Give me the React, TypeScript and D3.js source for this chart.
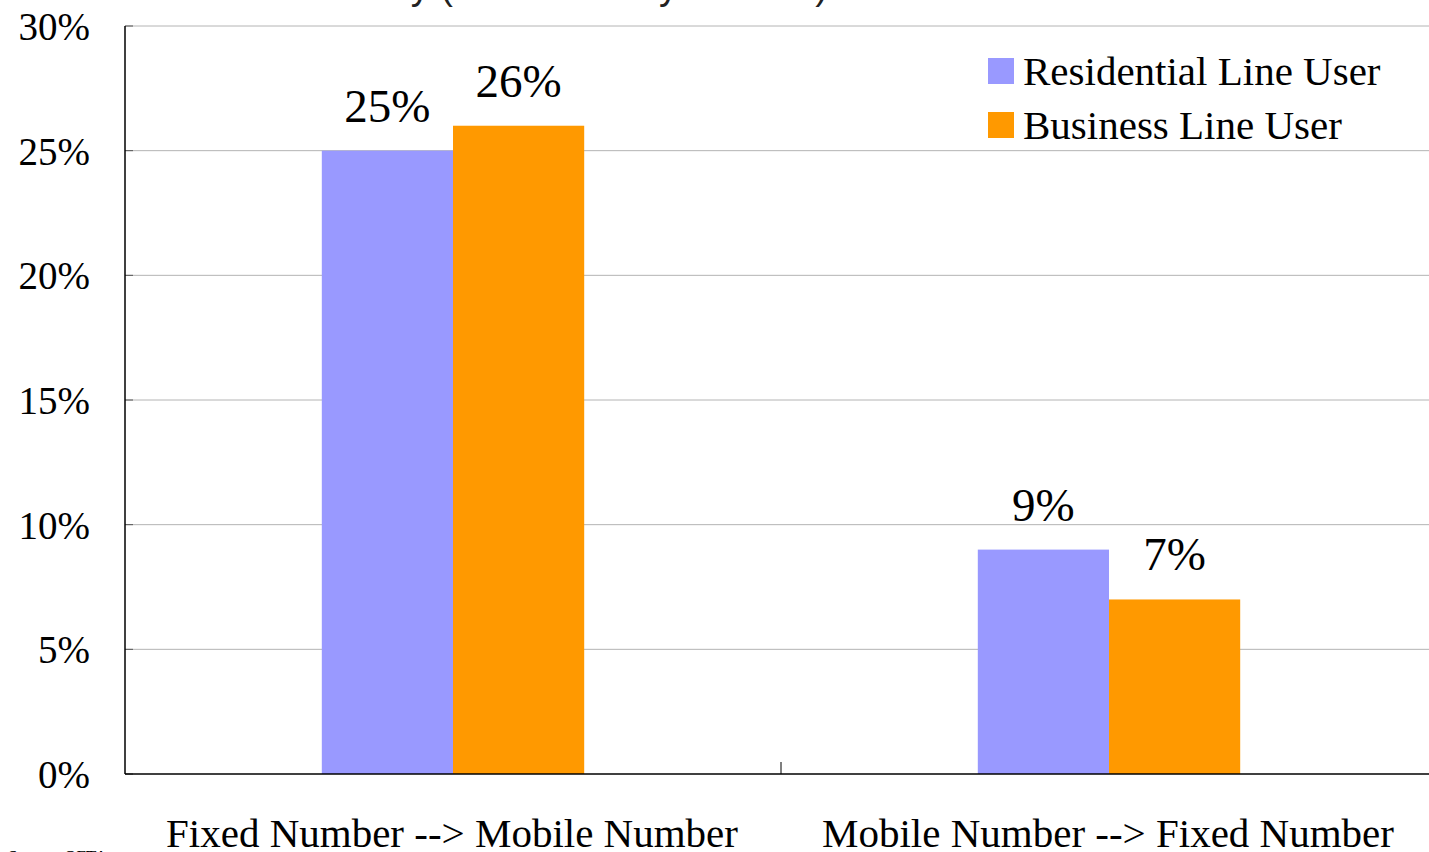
import React from "react";
import * as d3 from "d3";

const categories = ["Fixed Number --> Mobile Number", "Mobile Number --> Fixed Number"];
const seriesNames = ["Residential Line User", "Business Line User"];
const residential = [0.25, 0.09];
const business = [0.26, 0.07];
const yTicks = [0, 0.05, 0.1, 0.15, 0.2, 0.25, 0.3];
const colors = ["#9999FF", "#FF9900"];
const titleText = "Demand for Number Portability (OFTA Survey Results)";
const sourceText = "Source: OFTA";

const W = 1429;
const H = 852;
const FONT = "'Liberation Serif', 'Times New Roman', serif";
const SANS = "'Liberation Sans', Arial, sans-serif";

export default function App() {
  const left = 125;
  const right = 1437;
  const top = 26;
  const bottom = 774;

  const x = d3.scaleBand<string>().domain(categories).range([left, right]).paddingInner(0).paddingOuter(0);
  const xs = d3.scaleBand<string>().domain(seriesNames).range([0, x.bandwidth()]).paddingInner(0).paddingOuter(1.5);
  const y = d3.scaleLinear().domain([0, 0.3]).range([bottom, top]);
  const fmt = d3.format(".0%");
  const values = [residential, business];

  return (
    <svg width={W} height={H} style={{ position: "fixed", left: 0, top: 0, display: "block", background: "#fff" }}>
      {/* title (cut off at top, only descenders visible) */}
      <text x={828} y={-1} textAnchor="end" fontFamily={SANS} fontSize={38} fill="#222">{titleText}</text>

      {/* gridlines */}
      {yTicks.filter((t) => t > 0).map((t) => (
        <line key={"g" + t} x1={left} x2={right} y1={y(t)} y2={y(t)} stroke="#b4b4b4" strokeWidth={1} />
      ))}
      {/* small inner ticks */}
      {yTicks.map((t) => (
        <line key={"t" + t} x1={left} x2={left + 8} y1={y(t)} y2={y(t)} stroke="#555" strokeWidth={1} />
      ))}

      {/* bars */}
      {seriesNames.map((s, si) =>
        categories.map((c, ci) => {
          const v = values[si][ci];
          const bx = (x(c) as number) + (xs(s) as number);
          return (
            <rect key={s + c} x={bx} y={y(v)} width={xs.bandwidth()} height={y(0) - y(v)} fill={colors[si]} />
          );
        })
      )}

      {/* value labels */}
      {seriesNames.map((s, si) =>
        categories.map((c, ci) => {
          const v = values[si][ci];
          const cx = (x(c) as number) + (xs(s) as number) + xs.bandwidth() / 2;
          return (
            <text key={"l" + s + c} x={cx} y={y(v) - 29} textAnchor="middle" fontFamily={FONT} fontSize={47} fill="#000">
              {fmt(v)}
            </text>
          );
        })
      )}

      {/* axes */}
      <line x1={left} x2={left} y1={top} y2={bottom} stroke="#000" strokeWidth={1.5} />
      <line x1={left} x2={right} y1={bottom} y2={bottom} stroke="#000" strokeWidth={1.5} />
      {categories.slice(1).map((c) => (
        <line key={"ct" + c} x1={x(c) as number} x2={x(c) as number} y1={bottom - 12} y2={bottom} stroke="#000" strokeWidth={1} />
      ))}

      {/* y tick labels */}
      {yTicks.map((t) => (
        <text key={"yl" + t} x={90} y={y(t) + 14} textAnchor="end" fontFamily={FONT} fontSize={39} fill="#000">
          {fmt(t)}
        </text>
      ))}

      {/* category labels */}
      {categories.map((c) => (
        <text key={"cl" + c} x={(x(c) as number) + x.bandwidth() / 2 - 1} y={847} textAnchor="middle" fontFamily={FONT} fontSize={41} fill="#000">
          {c}
        </text>
      ))}

      {/* legend */}
      {seriesNames.map((s, i) => (
        <g key={"lg" + s} transform={`translate(988, ${58 + i * 54})`}>
          <rect x={0} y={0} width={26} height={26} fill={colors[i]} />
          <text x={35} y={27} fontFamily={FONT} fontSize={41} fill="#000">{s}</text>
        </g>
      ))}

      {/* source */}
      <text x={8} y={862} fontFamily={FONT} fontSize={17} fill="#000">{sourceText}</text>
    </svg>
  );
}
